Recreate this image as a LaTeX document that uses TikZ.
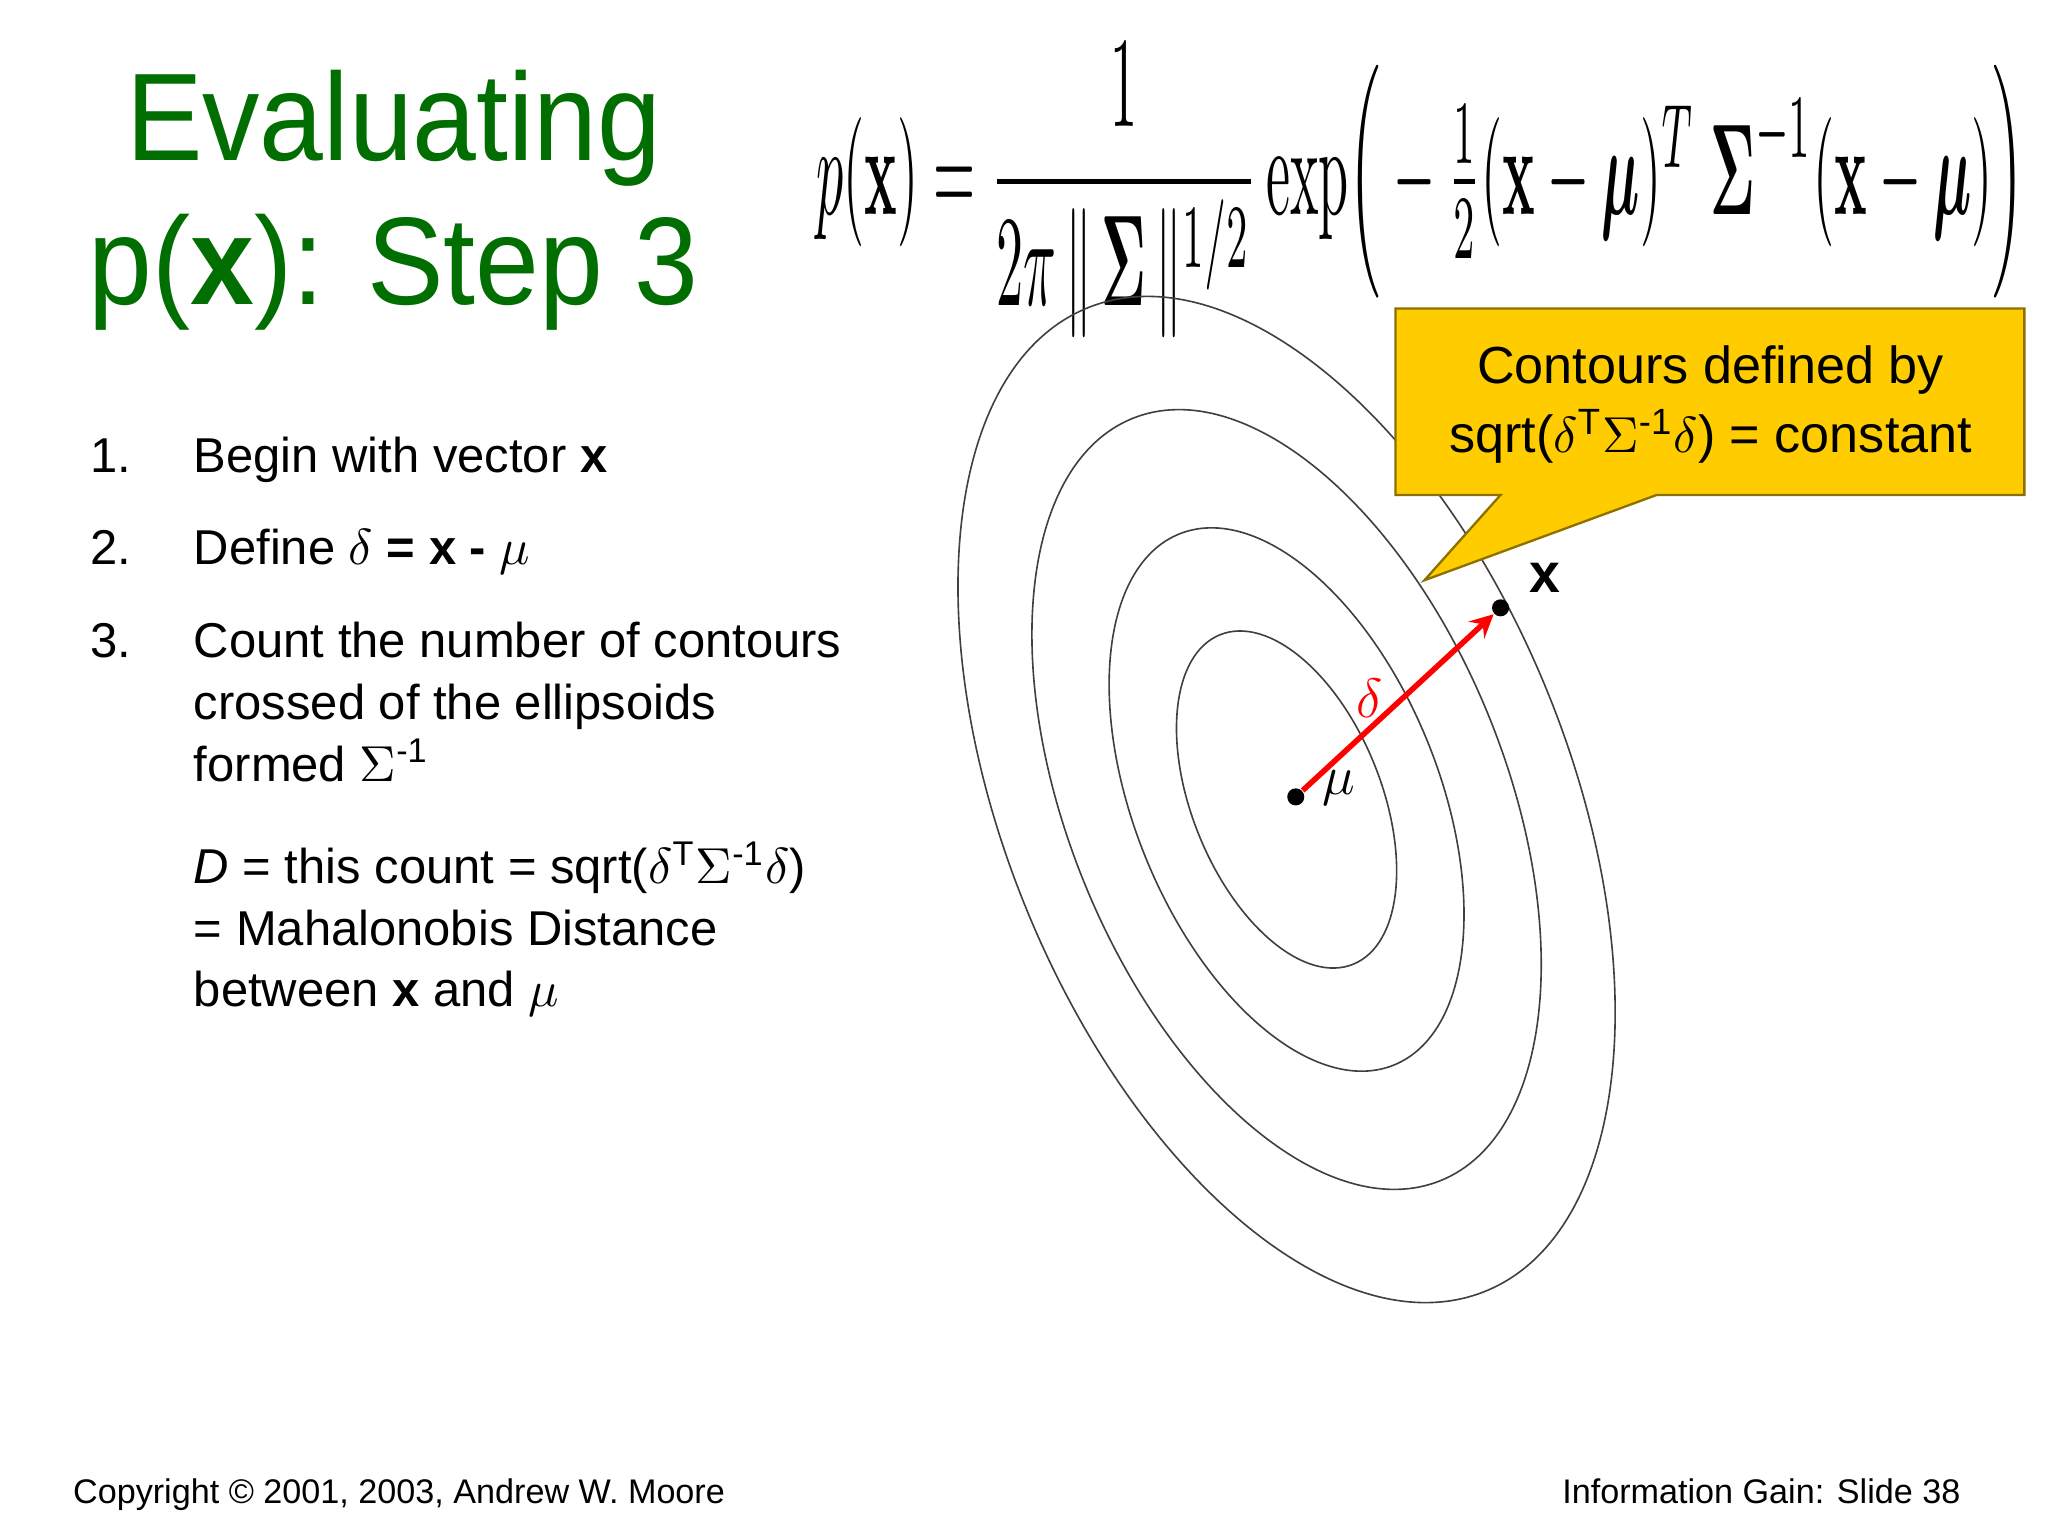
\documentclass[tikz,border=0pt]{standalone}
\usepackage{amsmath}
\usepackage[no-math]{fontspec}
\setmainfont{Liberation Sans}
\definecolor{tgreen}{RGB}{0,110,0}
\definecolor{cyell}{RGB}{255,204,0}
\begin{document}
\begin{tikzpicture}[x=0.01cm,y=-0.01cm,
  body/.style={anchor=base west,font=\fontsize{10.6}{13}\selectfont,inner sep=0},
  contour/.style={draw=black!75,line width=0.35pt},
  dot/.style={circle,fill=black,inner sep=0,minimum size=0.13cm}]
\useasboundingbox (0,0) rectangle (1560,1170);
% title
\node[text=tgreen,font=\fontsize{27}{32}\selectfont,anchor=base,xscale=0.92] (t1) at (300,122) {Evaluating};
\node[text=tgreen,font=\fontsize{27}{32}\selectfont,anchor=base,xscale=0.92] (t2) at (300,232) {p(\textbf{x}): Step 3};
% formula
\node[anchor=center,inner sep=0] (f) at (1082,145)
 {\resizebox{9.2cm}{1.3cm}{$p(\mathbf{x})=\dfrac{1}{2\pi\,\|\,\boldsymbol{\Sigma}\,\|^{1/2}}\exp\!\Big(-\tfrac{1}{2}(\mathbf{x}-\boldsymbol{\mu})^{T}\;\boldsymbol{\Sigma}^{-1}(\mathbf{x}-\boldsymbol{\mu})\Big)$}};
% body list
\node[body] (n1) at (68,360) {1.};
\node[body] (l1) at (147,360) {Begin with vector \textbf{x}};
\node[body] (n2) at (68,430) {2.};
\node[body] (l2) at (147,430) {Define $\delta$ \textbf{= x -} $\mu$};
\node[body] (n3) at (68,501) {3.};
\node[body] (l3a) at (147,501) {Count the number of contours};
\node[body] (l3b) at (147,548) {crossed of the ellipsoids};
\node[body] (l3c) at (147,595) {formed $\Sigma^{\text{-1}}$};
\node[body] (d1) at (147,673) {\textit{D} = this count = sqrt($\delta^{\text{T}}\Sigma^{\text{-1}}\delta$)};
\node[body] (d2) at (147,720) {= Mahalonobis Distance};
\node[body] (d3) at (147,767) {between \textbf{x} and $\mu$};
% contours
\coordinate (c) at (980,609);
\foreach \s in {0.335,0.54,0.775,1}
  \draw[contour,rotate around={-68:(c)}] (c) ellipse ({404*\s} and {215*\s});
% callout
\draw[fill=cyell,draw=black!45!cyell,line width=0.5pt]
  (1063,235) -- (1542,235) -- (1542,377) -- (1262,377) -- (1085,442) -- (1143,377) -- (1063,377) -- cycle;
\node[font=\fontsize{11.3}{14}\selectfont,align=center,anchor=center] (cl) at (1303,308)
  {Contours defined by\\[1pt] sqrt($\delta^{\text{T}}\Sigma^{\text{-1}}\delta$) = constant};
% points
\node[dot] (mu) at (987,607) {};
\node[dot] (x) at (1143,463) {};
\draw[red,line width=1.2pt,-stealth] (mu) -- (x);
\node[text=red,font=\fontsize{12}{14}\selectfont] (dl) at (1043,532) {$\delta$};
\node[font=\fontsize{12}{14}\selectfont] (ml) at (1020,600) {$\mu$};
\node[font=\fontsize{12}{14}\selectfont\bfseries] (xl) at (1177,440) {x};
% footer
\node[anchor=base west,font=\fontsize{7.4}{9}\selectfont,inner sep=0] (cp) at (55,1145) {Copyright \textcopyright{} 2001, 2003, Andrew W. Moore};
\node[anchor=base east,font=\fontsize{7.4}{9}\selectfont,inner sep=0] (sl) at (1494,1145) {Information Gain: Slide 38};
\end{tikzpicture}
\end{document}
